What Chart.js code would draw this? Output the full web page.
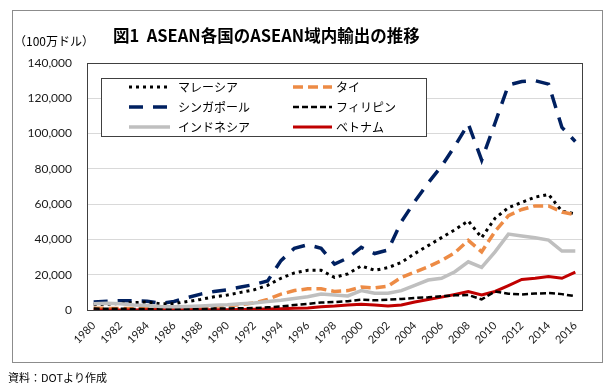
<!DOCTYPE html>
<html>
<head>
<meta charset="utf-8">
<script src="https://cdn.jsdelivr.net/npm/chart.js@4"></script>
<style>
  html, body { margin: 0; padding: 0; background: #fff; }
  #wrap { width: 607px; height: 389px; position: relative; }
</style>
</head>
<body>
<div id="wrap"><canvas id="chart" width="607" height="389"></canvas></div>
<script>
const years = [];
for (let y = 1980; y <= 2016; y++) years.push(String(y));

// 100万ドル
const malaysia = [3000, 3300, 3800, 4200, 4500, 3500, 3600, 4800, 6000, 7500, 8500, 10000, 11500, 14000, 18000, 21000, 22500, 22500, 18500, 20500, 25000, 22500, 24000, 27000, 32000, 36500, 41000, 45500, 50500, 41000, 52000, 58000, 61000, 64000, 65500, 56000, 54500];
const thailand = [1000, 900, 900, 800, 900, 900, 1000, 1300, 1700, 2100, 2500, 3000, 4000, 6000, 9000, 11000, 12000, 12000, 10500, 11000, 13000, 12500, 13500, 18500, 21500, 24500, 28000, 32500, 39500, 33000, 44500, 53500, 57000, 59000, 59000, 55500, 54000];
const singapore = [4500, 5000, 5300, 5200, 5000, 3800, 4800, 7000, 9000, 10500, 11500, 13000, 14500, 16500, 28000, 35000, 37000, 35000, 26000, 29500, 35500, 32000, 34000, 50000, 61500, 72000, 81500, 93000, 105500, 85000, 106000, 127500, 129500, 130000, 128000, 103500, 95500];
const philippines = [800, 700, 700, 600, 600, 500, 500, 600, 700, 800, 900, 1000, 1100, 1500, 2000, 2800, 3500, 4200, 4500, 5000, 5800, 5500, 5800, 6300, 6800, 7200, 7800, 8300, 8500, 6000, 10500, 9200, 8800, 9300, 9600, 9000, 7800];
const indonesia = [3500, 3800, 3500, 2800, 2500, 2000, 1800, 2000, 2300, 2700, 3000, 3500, 4000, 4800, 5500, 6500, 7500, 9000, 8500, 8000, 11000, 9500, 9500, 11000, 14000, 17000, 18000, 21700, 27300, 24100, 33000, 43000, 42000, 40900, 39600, 33400, 33400];
const vietnam = [50, 50, 60, 60, 80, 80, 100, 120, 150, 180, 200, 300, 400, 500, 700, 1000, 1200, 1800, 2200, 2800, 3200, 2800, 2200, 2800, 4500, 6000, 7300, 8800, 10400, 8500, 10500, 13800, 17300, 18000, 19000, 18000, 21500];

const yTicks = [0, 20000, 40000, 60000, 80000, 100000, 120000, 140000];

const JP = '"Noto Sans CJK JP", "Noto Sans", sans-serif';
const NUM = 'Lato, "Liberation Sans", sans-serif';

const series = [
  { label: 'インドネシア', data: indonesia, borderColor: '#BFBFBF', borderWidth: 3.5, borderDash: [] },
  { label: 'フィリピン', data: philippines, borderColor: '#000000', borderWidth: 2.5, borderDash: [6, 3] },
  { label: 'ベトナム', data: vietnam, borderColor: '#C00000', borderWidth: 3, borderDash: [] },
  { label: 'タイ', data: thailand, borderColor: '#ED8B45', borderWidth: 3.5, borderDash: [10, 5] },
  { label: 'マレーシア', data: malaysia, borderColor: '#000000', borderWidth: 3, borderDash: [3, 4] },
  { label: 'シンガポール', data: singapore, borderColor: '#002060', borderWidth: 3.5, borderDash: [14, 10] }
];

// legend grid, row by row
const legendOrder = ['マレーシア', 'タイ', 'シンガポール', 'フィリピン', 'インドネシア', 'ベトナム'];

const decorPlugin = {
  id: 'decor',
  beforeDraw(chart) {
    const ctx = chart.ctx;
    ctx.save();
    ctx.fillStyle = '#fff';
    ctx.fillRect(0, 0, chart.width, chart.height);
    ctx.strokeStyle = '#8c8c8c';
    ctx.lineWidth = 1;
    ctx.strokeRect(12.5, 10.5, 590, 352);
    ctx.restore();
  },
  afterDraw(chart) {
    const ctx = chart.ctx;
    const a = chart.chartArea;
    ctx.save();
    // plot frame
    ctx.strokeStyle = '#404040';
    ctx.lineWidth = 1;
    ctx.setLineDash([]);
    ctx.strokeRect(Math.round(a.left) + 0.5, Math.round(a.top) + 0.5, Math.round(a.right - a.left), Math.round(a.bottom - a.top));

    // title + unit + source
    ctx.fillStyle = '#000';
    ctx.textBaseline = 'middle';
    ctx.textAlign = 'left';
    ctx.font = 'bold 16.5px ' + JP;
    ctx.fillText('図1  ASEAN各国のASEAN域内輸出の推移', 113, 36);
    ctx.font = '12px ' + JP;
    ctx.fillText('（100万ドル）', 14, 41);
    ctx.font = '11px ' + JP;
    ctx.fillText('資料：DOTより作成', 8, 378);

    // legend box
    ctx.fillStyle = '#fff';
    ctx.fillRect(101, 78, 325, 58);
    ctx.strokeStyle = '#404040';
    ctx.strokeRect(101.5, 78.5, 325, 58);
    ctx.font = '12px ' + JP;
    legendOrder.forEach((name, i) => {
      const ds = chart.data.datasets.find(d => d.label === name);
      const col = i % 2, row = Math.floor(i / 2);
      const y = 87 + row * 20;
      const x0 = col === 0 ? 129 : 293;
      const x1 = col === 0 ? 170 : 332;
      ctx.beginPath();
      ctx.strokeStyle = ds.borderColor;
      ctx.lineWidth = ds.borderWidth;
      ctx.setLineDash(ds.borderDash);
      ctx.moveTo(x0, y);
      ctx.lineTo(x1, y);
      ctx.stroke();
      ctx.setLineDash([]);
      ctx.fillStyle = '#000';
      ctx.fillText(name, col === 0 ? 178 : 336, y);
    });
    ctx.restore();
  }
};

new Chart(document.getElementById('chart'), {
  type: 'line',
  data: {
    labels: years,
    datasets: series.map(s => ({
      label: s.label,
      data: s.data,
      borderColor: s.borderColor,
      backgroundColor: s.borderColor,
      borderWidth: s.borderWidth,
      borderDash: s.borderDash,
      pointRadius: 0,
      tension: 0,
      fill: false
    }))
  },
  options: {
    responsive: false,
    animation: false,
    layout: { padding: { left: 12, right: 25, top: 63, bottom: 29 } },
    plugins: {
      legend: { display: false },
      tooltip: { enabled: false },
      title: { display: false }
    },
    scales: {
      x: {
        offset: true,
        grid: { display: false, drawTicks: false },
        border: { display: false },
        ticks: {
          autoSkip: false,
          minRotation: 45,
          maxRotation: 45,
          padding: 9,
          color: '#1a1a1a',
          font: { family: NUM, size: 11 },
          callback: (v, i) => (i % 2 === 0 ? years[i] : '')
        },
        afterFit(scale) { scale.height = 50; }
      },
      y: {
        min: 0,
        max: 140000,
        grid: { color: '#d9d9d9', drawTicks: false },
        border: { display: false },
        ticks: {
          stepSize: 20000,
          padding: 15,
          color: '#1a1a1a',
          font: { family: NUM, size: 12 },
          callback: v => (yTicks.includes(v) ? v.toLocaleString('en-US') : '')
        },
        afterFit(scale) { scale.width = 75; }
      }
    }
  },
  plugins: [decorPlugin]
});
</script>
</body>
</html>
